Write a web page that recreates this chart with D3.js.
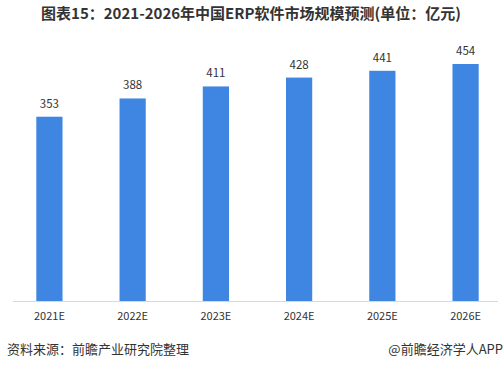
<!DOCTYPE html>
<html>
<head>
<meta charset="utf-8">
<script src="https://cdn.jsdelivr.net/npm/d3@7"></script>
<style>
  body { margin: 0; background: #fff; }
  text { font-family: "Noto Sans CJK SC", "Noto Sans", sans-serif; }
</style>
</head>
<body>
<div id="chart"></div>
<script>
const years = ["2021E", "2022E", "2023E", "2024E", "2025E", "2026E"];
const values = [353, 388, 411, 428, 441, 454];

const svgWidth = 503;
const svgHeight = 369;
const baseY = 301;

const svg = d3.select("#chart").append("svg")
    .attr("width", svgWidth)
    .attr("height", svgHeight);

svg.append("text")
    .attr("x", 251)
    .attr("y", 19)
    .attr("text-anchor", "middle")
    .attr("font-size", 15)
    .attr("font-weight", "bold")
    .attr("fill", "#333")
    .text("图表15：2021-2026年中国ERP软件市场规模预测(单位：亿元)");

const x = d3.scaleBand()
    .domain(years)
    .range([8, 507])
    .paddingInner(0.685)
    .paddingOuter(0.34);

const y = d3.scaleLinear()
    .domain([0, 454])
    .range([baseY, 64]);

svg.append("line")
    .attr("x1", 13).attr("x2", 498)
    .attr("y1", baseY + 0.5).attr("y2", baseY + 0.5)
    .attr("stroke", "#d9d9d9");

svg.selectAll("rect.bar")
    .data(values)
    .enter()
    .append("rect")
    .attr("class", "bar")
    .attr("x", (d, i) => x(years[i]))
    .attr("y", d => y(d))
    .attr("width", x.bandwidth())
    .attr("height", d => baseY - y(d))
    .attr("fill", "#3f86e2");

svg.selectAll("text.val")
    .data(values)
    .enter()
    .append("text")
    .attr("class", "val")
    .attr("x", (d, i) => x(years[i]) + x.bandwidth() / 2)
    .attr("y", d => y(d) - 9)
    .attr("text-anchor", "middle")
    .attr("font-size", 11.5)
    .attr("fill", "#333")
    .text(d => d);

const axis = svg.append("g")
    .attr("transform", `translate(0, ${baseY})`)
    .call(d3.axisBottom(x).tickSize(0).tickPadding(11));
axis.select(".domain").remove();
axis.selectAll("text")
    .attr("font-size", 11)
    .attr("fill", "#333")
    .style("font-family", "'Noto Sans CJK SC', sans-serif");

svg.append("text")
    .attr("x", 7)
    .attr("y", 354)
    .attr("font-size", 13)
    .attr("fill", "#333")
    .text("资料来源：前瞻产业研究院整理");

svg.append("text")
    .attr("x", 503)
    .attr("y", 354)
    .attr("text-anchor", "end")
    .attr("font-size", 13)
    .attr("fill", "#333")
    .text("@前瞻经济学人APP");
</script>
</body>
</html>
